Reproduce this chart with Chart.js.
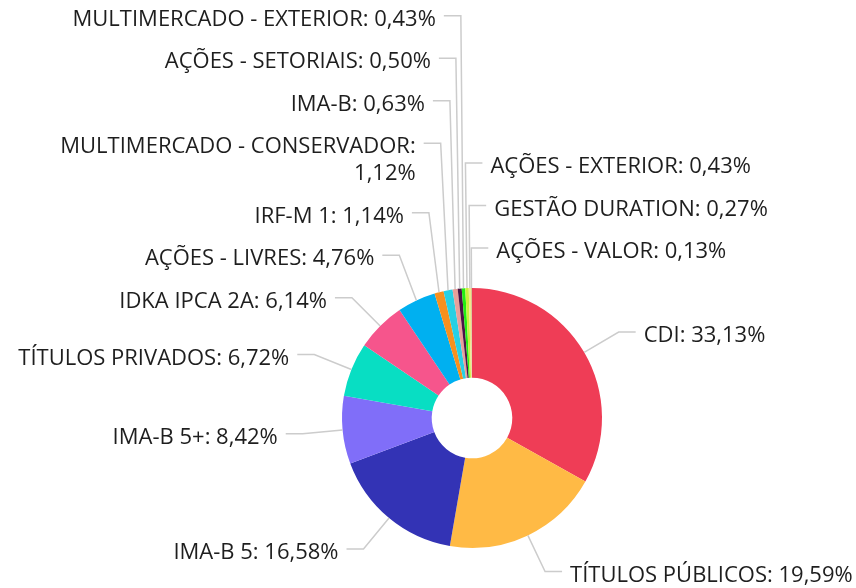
<!DOCTYPE html>
<html>
<head>
<meta charset="utf-8">
<script src="https://cdn.jsdelivr.net/npm/chart.js@4.4.1/dist/chart.umd.min.js"></script>
<style>
  html, body { margin: 0; padding: 0; background: #fff; }
  #wrap { width: 856px; height: 588px; }
</style>
</head>
<body>
<div id="wrap"><canvas id="chartCanvas" width="856" height="588"></canvas></div>
<script>
const categories = [
    "CDI", "TÍTULOS PÚBLICOS", "IMA-B 5", "IMA-B 5+", "TÍTULOS PRIVADOS",
    "IDKA IPCA 2A", "AÇÕES - LIVRES", "IRF-M 1", "MULTIMERCADO - CONSERVADOR",
    "IMA-B", "AÇÕES - SETORIAIS", "MULTIMERCADO - EXTERIOR", "AÇÕES - EXTERIOR",
    "GESTÃO DURATION", "AÇÕES - VALOR",
];
const values = [33.13, 19.59, 16.58, 8.42, 6.72, 6.14, 4.76, 1.14, 1.12, 0.63, 0.50, 0.43, 0.43, 0.27, 0.13];
const colors = [
    "#ef3d56", "#ffba45", "#3333b5", "#806ef9", "#08dec3",
    "#f6558c", "#00b0f0", "#f7901e", "#27d0e4", "#e8a09a",
    "#4b1446", "#22ee11", "#c8f03c", "#f0e68c", "#d8c090",
];

const FONT = "22px 'Open Sans'";
const LINE_H = 27;      // line height of a label
const PAD = 15.5;       // vertical room between label boxes
const LEN1 = 40;        // first leader segment (radial)
const LEN2 = 17;        // second leader segment (horizontal)
const GAP = 8;          // leader end -> text

const fmt = (v) => v.toFixed(2).replace(".", ",") + "%";

// greedy word wrap so a label never leaves the canvas
function wrap(ctx, text, maxW) {
    if (ctx.measureText(text).width <= maxW) return [text];
    const words = text.split(" ");
    const lines = [];
    let cur = "";
    words.forEach((w) => {
        const test = cur ? cur + " " + w : w;
        if (cur && ctx.measureText(test).width > maxW) {
            lines.push(cur);
            cur = w;
        } else {
            cur = test;
        }
    });
    if (cur) lines.push(cur);
    return lines;
}

// push labels upward (bottom to top) so their boxes don't overlap
function stack(list) {
    for (let i = list.length - 1; i >= 0; i--) {
        const it = list[i];
        it.y = it.ny;
        if (i < list.length - 1) {
            const below = list[i + 1];
            const belowTop = below.y - LINE_H / 2 - PAD / 2;
            const h = it.lines.length * LINE_H + PAD;
            it.y = Math.min(it.y, belowTop - h + LINE_H / 2 + PAD / 2);
        }
    }
}

const outsideLabels = {
    id: "outsideLabels",
    afterDraw(chart) {
        const ctx = chart.ctx;
        const W = chart.width;
        const meta = chart.getDatasetMeta(0);
        ctx.save();
        ctx.font = FONT;

        const items = meta.data.map((arc, i) => {
            const mid = (arc.startAngle + arc.endAngle) / 2;
            const fromTop = mid + Math.PI / 2; // 0 at 12 o'clock, clockwise
            const r1 = arc.outerRadius + LEN1;
            return {
                i,
                a: fromTop,
                p0: { x: arc.x + Math.cos(mid) * arc.outerRadius, y: arc.y + Math.sin(mid) * arc.outerRadius },
                p1: { x: arc.x + Math.cos(mid) * r1, y: arc.y + Math.sin(mid) * r1 },
                ny: arc.y + Math.sin(mid) * r1,
                text: categories[i] + ": " + fmt(values[i]),
            };
        });

        let left = items.filter((d) => d.a >= Math.PI).sort((p, q) => q.a - p.a);
        let right = items.filter((d) => d.a < Math.PI);

        left.forEach((d) => {
            d.side = -1;
            const tx = d.p1.x - LEN2 - GAP;
            d.lines = wrap(ctx, d.text, tx);
        });
        stack(left);
        // labels that no longer fit above the left column go to the right side
        while (left.length && left[0].y - LINE_H / 2 < 0) {
            right.push(left.shift());
        }

        right.forEach((d) => {
            d.side = 1;
            d.ua = d.a < Math.PI ? d.a : d.a - 2 * Math.PI;
            const tx = d.p1.x + LEN2 + GAP;
            d.lines = wrap(ctx, d.text, W - tx);
        });
        right.sort((p, q) => p.ua - q.ua);
        stack(right);

        ctx.strokeStyle = "#cccccc";
        ctx.lineWidth = 1.5;
        ctx.fillStyle = "#1e1e1e";
        ctx.textBaseline = "middle";
        left.concat(right).forEach((d) => {
            const ex = d.p1.x + d.side * LEN2;
            ctx.beginPath();
            ctx.moveTo(d.p0.x, d.p0.y);
            ctx.lineTo(d.p1.x, d.y);
            ctx.lineTo(ex, d.y);
            ctx.stroke();
            ctx.textAlign = d.side < 0 ? "right" : "left";
            const tx = ex + d.side * GAP;
            d.lines.forEach((ln, k) => {
                ctx.fillText(ln, tx, d.y + 4 + k * LINE_H);
            });
        });
        ctx.restore();
    },
};

new Chart(document.getElementById("chartCanvas"), {
    type: "doughnut",
    data: {
        labels: categories,
        datasets: [
            {
                data: values,
                backgroundColor: colors,
                borderWidth: 0,
            },
        ],
    },
    options: {
        responsive: false,
        animation: false,
        cutout: "31%",
        layout: { padding: { left: 342, right: 254, top: 288, bottom: 40 } },
        plugins: {
            legend: { display: false },
            tooltip: { enabled: false },
        },
    },
    plugins: [outsideLabels],
});
</script>
</body>
</html>
